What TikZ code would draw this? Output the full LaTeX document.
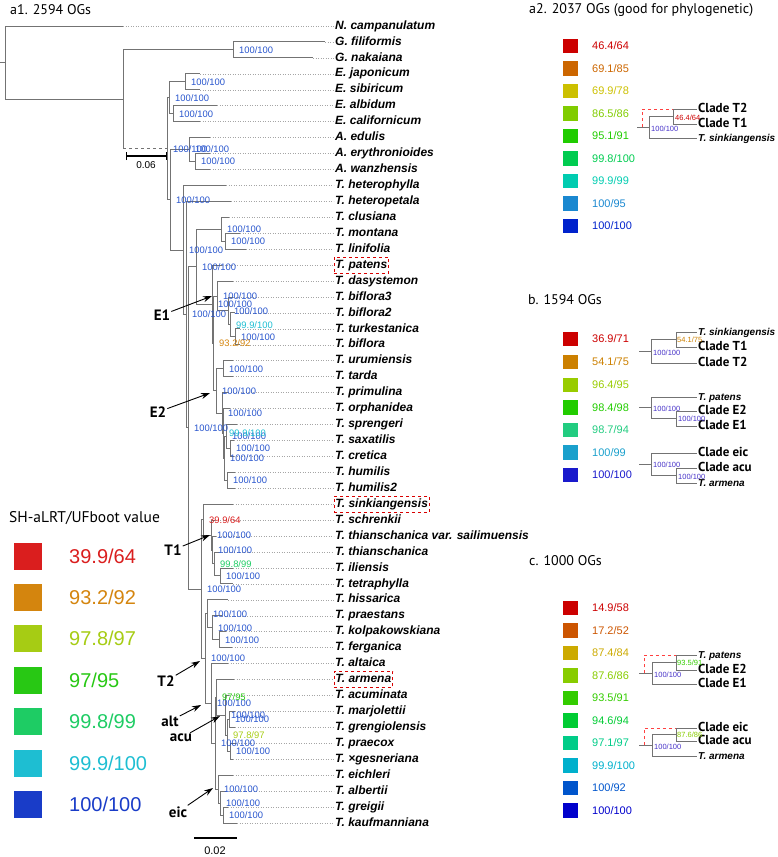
\documentclass[tikz,border=0pt]{standalone}
\usepackage{fontspec}
\setmainfont{Liberation Sans}
\newfontfamily\ptsans{PT Sans}
\usetikzlibrary{arrows.meta}
\definecolor{supblue}{RGB}{40,85,205}
\definecolor{mblue}{RGB}{70,50,200}
\definecolor{ca1}{RGB}{218,30,30}
\definecolor{ca2}{RGB}{212,133,14}
\definecolor{ca3}{RGB}{166,204,20}
\definecolor{ca4}{RGB}{40,200,20}
\definecolor{ca5}{RGB}{30,204,100}
\definecolor{ca6}{RGB}{30,190,210}
\definecolor{ca7}{RGB}{25,60,200}
\definecolor{cb1}{RGB}{204,0,0}
\definecolor{cb2}{RGB}{204,102,0}
\definecolor{cb3}{RGB}{204,192,0}
\definecolor{cb4}{RGB}{128,204,0}
\definecolor{cb5}{RGB}{32,204,0}
\definecolor{cb6}{RGB}{0,204,80}
\definecolor{cb7}{RGB}{0,204,176}
\definecolor{cb8}{RGB}{26,136,208}
\definecolor{cb9}{RGB}{0,34,204}
\definecolor{cc1}{RGB}{204,0,0}
\definecolor{cc2}{RGB}{204,128,0}
\definecolor{cc3}{RGB}{153,204,0}
\definecolor{cc4}{RGB}{34,204,0}
\definecolor{cc5}{RGB}{34,204,128}
\definecolor{cc6}{RGB}{26,160,204}
\definecolor{cc7}{RGB}{26,26,204}
\definecolor{cd1}{RGB}{204,0,0}
\definecolor{cd2}{RGB}{204,85,0}
\definecolor{cd3}{RGB}{204,170,0}
\definecolor{cd4}{RGB}{136,204,0}
\definecolor{cd5}{RGB}{51,204,0}
\definecolor{cd6}{RGB}{0,204,51}
\definecolor{cd7}{RGB}{0,204,136}
\definecolor{cd8}{RGB}{0,176,204}
\definecolor{cd9}{RGB}{0,85,204}
\definecolor{cd10}{RGB}{0,0,204}

\begin{document}
\begin{tikzpicture}[x=1pt,y=-1pt,
		branch/.style={draw=black!55,line width=1pt},
		mbranch/.style={draw=black!55,line width=0.8pt},
		leader/.style={draw=black!35,dotted,line width=0.5pt},
		altpath/.style={draw=red!75,dashed,line width=0.9pt},
		taxon/.style={anchor=west,inner sep=1.5pt,text height=8.6pt,text depth=2.4pt,font=\fontsize{12}{12}\selectfont\bfseries\itshape},
		boxed/.style={draw=red!85!black,dashed,line width=0.9pt,inner ysep=2.6pt},
		sup/.style={anchor=west,inner sep=0pt,xshift=6pt,font=\fontsize{9.4}{10}\selectfont,text=supblue},
		clab/.style={inner sep=1pt,font=\ptsans\bfseries\fontsize{15}{15}\selectfont},
		arr/.style={-{Stealth[length=9pt,width=6pt]},line width=0.9pt},
		head/.style={anchor=west,inner sep=0pt,font=\ptsans\fontsize{14}{14}\selectfont},
		sq/.style={minimum width=28pt,minimum height=27pt,inner sep=0pt},
		msq/.style={minimum width=15.5pt,minimum height=14.5pt,inner sep=0pt},
		lval/.style={anchor=west,inner sep=0pt,font=\fontsize{20}{20}\selectfont},
		mval/.style={anchor=west,inner sep=0pt,font=\fontsize{11}{11}\selectfont},
		mtaxon/.style={anchor=west,inner sep=1pt,text height=9pt,text depth=2.5pt,font=\ptsans\bfseries\fontsize{13}{13}\selectfont},
		mitaxon/.style={anchor=west,inner sep=1pt,text height=9pt,text depth=2.5pt,font=\fontsize{10}{10}\selectfont\bfseries\itshape},
		msup/.style={anchor=west,inner sep=0pt,font=\fontsize{7.5}{8}\selectfont}]
	\useasboundingbox (0,0) rectangle (778,857);

	\node[head] (h1) at (10,10) {a1. 2594 OGs};
	\node[head] (h2) at (529,10) {a2. 2037 OGs (good for phylogenetic)};
	\node[head] (h3) at (528,300) {b. 1594 OGs};
	\node[head] (h4) at (529,561) {c. 1000 OGs};

	\node[taxon] (ncam) at (333.5,26.0) {N. campanulatum}; \coordinate (ncam') at (123,26.0);
	\node[taxon] (gfil) at (333.5,41.9) {G. filiformis}; \coordinate (gfil') at (325,41.9);
	\node[taxon] (gnak) at (333.5,57.9) {G. nakaiana}; \coordinate (gnak') at (313,57.9);
	\node[taxon] (ejap) at (333.5,73.8) {E. japonicum}; \coordinate (ejap') at (200,73.8);
	\node[taxon] (esib) at (333.5,89.8) {E. sibiricum}; \coordinate (esib') at (200,89.8);
	\node[taxon] (ealb) at (333.5,105.7) {E. albidum}; \coordinate (ealb') at (217,105.7);
	\node[taxon] (ecal) at (333.5,121.6) {E. californicum}; \coordinate (ecal') at (200,121.6);
	\node[taxon] (aedu) at (333.5,137.6) {A. edulis}; \coordinate (aedu') at (210,137.6);
	\node[taxon] (aery) at (333.5,153.5) {A. erythronioides}; \coordinate (aery') at (210,153.5);
	\node[taxon] (awan) at (333.5,169.5) {A. wanzhensis}; \coordinate (awan') at (210,169.5);
	\node[taxon] (thph) at (333.5,185.4) {T. heterophylla}; \coordinate (thph') at (226,185.4);
	\node[taxon] (thpt) at (333.5,201.3) {T. heteropetala}; \coordinate (thpt') at (231,201.3);
	\node[taxon] (tclu) at (333.5,217.3) {T. clusiana}; \coordinate (tclu') at (229,217.3);
	\node[taxon] (tmon) at (333.5,233.2) {T. montana}; \coordinate (tmon') at (240,233.2);
	\node[taxon] (tlin) at (333.5,249.2) {T. linifolia}; \coordinate (tlin') at (246,249.2);
	\node[taxon,boxed] (tpat) at (333.5,265.1) {T. patens}; \coordinate (tpat') at (222,265.1);
	\node[taxon] (tdas) at (333.5,281.0) {T. dasystemon}; \coordinate (tdas') at (233,281.0);
	\node[taxon] (tbi3) at (333.5,297.0) {T. biflora3}; \coordinate (tbi3') at (233,297.0);
	\node[taxon] (tbi2) at (333.5,312.9) {T. biflora2}; \coordinate (tbi2') at (235,312.9);
	\node[taxon] (ttur) at (333.5,328.9) {T. turkestanica}; \coordinate (ttur') at (240,328.9);
	\node[taxon] (tbif) at (333.5,344.8) {T. biflora}; \coordinate (tbif') at (240,344.8);
	\node[taxon] (turu) at (333.5,360.7) {T. urumiensis}; \coordinate (turu') at (233,360.7);
	\node[taxon] (ttar) at (333.5,376.7) {T. tarda}; \coordinate (ttar') at (233,376.7);
	\node[taxon] (tpri) at (333.5,392.6) {T. primulina}; \coordinate (tpri') at (228,392.6);
	\node[taxon] (torp) at (333.5,408.6) {T. orphanidea}; \coordinate (torp') at (230,408.6);
	\node[taxon] (tspr) at (333.5,424.5) {T. sprengeri}; \coordinate (tspr') at (237,424.5);
	\node[taxon] (tsax) at (333.5,440.4) {T. saxatilis}; \coordinate (tsax') at (234,440.4);
	\node[taxon] (tcre) at (333.5,456.4) {T. cretica}; \coordinate (tcre') at (234,456.4);
	\node[taxon] (thum) at (333.5,472.3) {T. humilis}; \coordinate (thum') at (235,472.3);
	\node[taxon] (thu2) at (333.5,488.3) {T. humilis2}; \coordinate (thu2') at (235,488.3);
	\node[taxon,boxed] (tsin) at (333.5,504.2) {T. sinkiangensis}; \coordinate (tsin') at (233,504.2);
	\node[taxon] (tsch) at (333.5,520.1) {T. schrenkii}; \coordinate (tsch') at (215,520.1);
	\node[taxon] (tsai) at (333.5,536.1) {T. thianschanica var. sailimuensis}; \coordinate (tsai') at (216,536.1);
	\node[taxon] (tthi) at (333.5,552.0) {T. thianschanica}; \coordinate (tthi') at (219,552.0);
	\node[taxon] (tili) at (333.5,568.0) {T. iliensis}; \coordinate (tili') at (233,568.0);
	\node[taxon] (ttet) at (333.5,583.9) {T. tetraphylla}; \coordinate (ttet') at (233,583.9);
	\node[taxon] (thss) at (333.5,599.8) {T. hissarica}; \coordinate (thss') at (228,599.8);
	\node[taxon] (tpra) at (333.5,615.8) {T. praestans}; \coordinate (tpra') at (222,615.8);
	\node[taxon] (tkol) at (333.5,631.7) {T. kolpakowskiana}; \coordinate (tkol') at (226,631.7);
	\node[taxon] (tfer) at (333.5,647.7) {T. ferganica}; \coordinate (tfer') at (232,647.7);
	\node[taxon] (talt) at (333.5,663.6) {T. altaica}; \coordinate (talt') at (228,663.6);
	\node[taxon,boxed] (tarm) at (333.5,679.5) {T. armena}; \coordinate (tarm') at (234,679.5);
	\node[taxon] (tacu) at (333.5,695.5) {T. acuminata}; \coordinate (tacu') at (229,695.5);
	\node[taxon] (tmar) at (333.5,711.4) {T. marjolettii}; \coordinate (tmar') at (235,711.4);
	\node[taxon] (tgre) at (333.5,727.4) {T. grengiolensis}; \coordinate (tgre') at (235,727.4);
	\node[taxon] (tpcx) at (333.5,743.3) {T. praecox}; \coordinate (tpcx') at (236,743.3);
	\node[taxon] (tges) at (333.5,759.2) {T. ×gesneriana}; \coordinate (tges') at (233,759.2);
	\node[taxon] (teic) at (333.5,775.2) {T. eichleri}; \coordinate (teic') at (233,775.2);
	\node[taxon] (talb) at (333.5,791.1) {T. albertii}; \coordinate (talb') at (226,791.1);
	\node[taxon] (tgrg) at (333.5,807.1) {T. greigii}; \coordinate (tgrg') at (228,807.1);
	\node[taxon] (tkau) at (333.5,823.0) {T. kaufmanniana}; \coordinate (tkau') at (237,823.0);

	\coordinate (r0) at (0,62.65); \coordinate (r) at (5,62.65);
	\coordinate (ig) at (123,99.3); \coordinate (gag) at (233,49.9);
	\coordinate (eat) at (167,148.75); \coordinate (ery) at (169,97.7);
	\coordinate (ejs) at (185,81.8); \coordinate (eac) at (173,113.65);
	\coordinate (amtu) at (170,199.8); \coordinate (ama) at (189,149.55); \coordinate (aew) at (195,161.5);
	\coordinate (ta) at (183,250.0); \coordinate (tb) at (186,314.6); \coordinate (tc) at (188,427.95);
	\coordinate (ce) at (196,266.8); \coordinate (clu) at (221,229.25); \coordinate (ml) at (225,241.2);
	\coordinate (eri) at (212,304.3); \coordinate (e12) at (213,343.45);
	\coordinate (e1) at (217,296.0); \coordinate (e1b) at (228,310.95); \coordinate (e1c) at (230,324.9); \coordinate (e1d) at (235,336.85);
	\coordinate (e2) at (216,390.9); \coordinate (ut) at (223,368.7); \coordinate (e2b) at (222,413.05);
	\coordinate (e2c) at (223,433.5); \coordinate (e2d) at (224,458.4); \coordinate (e2e) at (226,436.45);
	\coordinate (sc) at (230,448.4); \coordinate (hh) at (227,480.3);
	\coordinate (st) at (201,589.1); \coordinate (st1) at (203,519.64);
	\coordinate (ct1) at (211,535.07); \coordinate (ct1b) at (212,550.04); \coordinate (ct1c) at (214,563.98); \coordinate (ct1d) at (220,575.95);
	\coordinate (ct2) at (205,658.6); \coordinate (hi) at (207,613.78); \coordinate (pkf) at (212,627.75); \coordinate (kf) at (219,639.7);
	\coordinate (alt) at (211,703.45); \coordinate (zz) at (215,743.3); \coordinate (aa) at (216,697.45);
	\coordinate (acu) at (225,715.4); \coordinate (gsn) at (227,735.33); \coordinate (mg) at (229,719.4); \coordinate (pg) at (230,751.25);
	\coordinate (eic) at (218,789.14); \coordinate (eic2) at (220,803.08); \coordinate (gk) at (223,815.05);

	\draw[branch] (r0) -- (r) (r) |- (ncam') (r) |- (ig);
	\draw[branch] (ig) |- (gag) (gag) |- (gfil') (gag) |- (gnak') (ig) -- (ig |- eat);
	\draw[branch,dashed] (ig |- eat) -- (eat);
	\draw[branch] (eat) |- (ery) (eat) |- (amtu);
	\draw[branch] (ery) |- (ejs) (ery) |- (eac) (ejs) |- (ejap') (ejs) |- (esib') (eac) |- (ealb') (eac) |- (ecal');
	\draw[branch] (amtu) |- (ama) (amtu) |- (ta) (ama) |- (aedu') (ama) |- (aew) (aew) |- (aery') (aew) |- (awan');
	\draw[branch] (ta) |- (thph') (ta) |- (tb) (tb) |- (thpt') (tb) |- (tc) (tc) |- (ce) (tc) |- (st);
	\draw[branch] (ce) |- (clu) (ce) |- (eri) (clu) |- (tclu') (clu) |- (ml) (ml) |- (tmon') (ml) |- (tlin');
	\draw[branch] (eri) |- (tpat') (eri) |- (e12) (e12) |- (e1) (e12) |- (e2);
	\draw[branch] (e1) |- (tdas') (e1) |- (e1b) (e1b) |- (tbi3') (e1b) |- (e1c) (e1c) |- (tbi2') (e1c) |- (e1d) (e1d) |- (ttur') (e1d) |- (tbif');
	\draw[branch] (e2) |- (ut) (e2) |- (e2b) (ut) |- (turu') (ut) |- (ttar') (e2b) |- (tpri') (e2b) |- (e2c) (e2c) |- (torp') (e2c) |- (e2d);
	\draw[branch] (e2d) |- (e2e) (e2d) |- (hh) (e2e) |- (tspr') (e2e) |- (sc) (sc) |- (tsax') (sc) |- (tcre') (hh) |- (thum') (hh) |- (thu2');
	\draw[branch] (st) |- (st1) (st) |- (ct2) (st1) |- (tsin') (st1) |- (ct1) (ct1) |- (tsch') (ct1) |- (ct1b);
	\draw[branch] (ct1b) |- (tsai') (ct1b) |- (ct1c) (ct1c) |- (tthi') (ct1c) |- (ct1d) (ct1d) |- (tili') (ct1d) |- (ttet');
	\draw[branch] (ct2) |- (hi) (ct2) |- (alt) (hi) |- (thss') (hi) |- (pkf) (pkf) |- (tpra') (pkf) |- (kf) (kf) |- (tkol') (kf) |- (tfer');
	\draw[branch] (alt) |- (talt') (alt) |- (zz) (zz) |- (aa) (zz) |- (eic) (aa) |- (tarm') (aa) |- (acu) (acu) |- (tacu') (acu) |- (gsn);
	\draw[branch] (gsn) |- (mg) (gsn) |- (pg) (mg) |- (tmar') (mg) |- (tgre') (pg) |- (tpcx') (pg) |- (tges');
	\draw[branch] (eic) |- (teic') (eic) |- (eic2) (eic2) |- (talb') (eic2) |- (gk) (gk) |- (tgrg') (gk) |- (tkau');

	\draw[leader] (ncam') -- (ncam) (gfil') -- (gfil) (gnak') -- (gnak) (ejap') -- (ejap) (esib') -- (esib) (ealb') -- (ealb) (ecal') -- (ecal);
	\draw[leader] (aedu') -- (aedu) (aery') -- (aery) (awan') -- (awan) (thph') -- (thph) (thpt') -- (thpt) (tclu') -- (tclu) (tmon') -- (tmon);
	\draw[leader] (tlin') -- (tlin) (tpat') -- (tpat) (tdas') -- (tdas) (tbi3') -- (tbi3) (tbi2') -- (tbi2) (ttur') -- (ttur) (tbif') -- (tbif);
	\draw[leader] (turu') -- (turu) (ttar') -- (ttar) (tpri') -- (tpri) (torp') -- (torp) (tspr') -- (tspr) (tsax') -- (tsax) (tcre') -- (tcre);
	\draw[leader] (thum') -- (thum) (thu2') -- (thu2) (tsin') -- (tsin) (tsch') -- (tsch) (tsai') -- (tsai) (tthi') -- (tthi) (tili') -- (tili);
	\draw[leader] (ttet') -- (ttet) (thss') -- (thss) (tpra') -- (tpra) (tkol') -- (tkol) (tfer') -- (tfer) (talt') -- (talt) (tarm') -- (tarm);
	\draw[leader] (tacu') -- (tacu) (tmar') -- (tmar) (tgre') -- (tgre) (tpcx') -- (tpcx) (tges') -- (tges) (teic') -- (teic);
	\draw[leader] (talb') -- (talb) (tgrg') -- (tgrg) (tkau') -- (tkau);

	\coordinate (s06a) at (126,156); \coordinate (s06b) at (167,156);
	\draw[line width=1.3pt,{Bar[width=8pt]}-{Bar[width=8pt]}] (s06a) -- (s06b);
	\node[font=\fontsize{10}{10}\selectfont] (s06) at (146,165) {0.06};
	\coordinate (s02a) at (194,838); \coordinate (s02b) at (237,838);
	\draw[line width=1.6pt] (s02a) -- (s02b);
	\node[font=\fontsize{11}{11}\selectfont] (s02) at (215,851) {0.02};

	\node[sup] (sgag) at (gag) {100/100};
	\node[sup] (sejs) at (ejs) {100/100};
	\node[sup] (seac) at (eac) {100/100};
	\node[sup] (sery) at (ery) {100/100};
	\node[sup] (seat) at (eat) {100/100};
	\node[sup] (sama) at (ama) {100/100};
	\node[sup] (saew) at (aew) {100/100};
	\node[sup] (samtu) at (amtu) {100/100};
	\node[sup] (sta) at (ta) {100/100};
	\node[sup] (stb) at (tb) {100/100};
	\node[sup] (stc) at (tc) {100/100};
	\node[sup] (sce) at (ce) {100/100};
	\node[sup] (sclu) at (clu) {100/100};
	\node[sup] (sml) at (ml) {100/100};
	\node[sup] (seri) at (eri) {100/100};
	\node[sup] (se1) at (e1) {100/100};
	\node[sup] (se1b) at (e1b) {100/100};
	\node[sup,text=ca6] (se1c) at (e1c) {99.9/100};
	\node[sup] (se1d) at (e1d) {100/100};
	\node[sup,text=ca2] (se12) at (e12) {93.2/92};
	\node[sup] (sut) at (ut) {100/100};
	\node[sup] (se2) at (e2) {100/100};
	\node[sup] (se2b) at (e2b) {100/100};
	\node[sup] (se2d) at (e2d) {100/100};
	\node[sup] (se2e) at (e2e) {100/100};
	\node[sup,text=ca6] (se2c) at (e2c) {99.9/100};
	\node[sup] (ssc) at (sc) {100/100};
	\node[sup] (shh) at (hh) {100/100};
	\node[sup] (sst) at (st) {100/100};
	\node[sup,text=ca1] (sst1) at (st1) {39.9/64};
	\node[sup] (sct1) at (ct1) {100/100};
	\node[sup] (sct1b) at (ct1b) {100/100};
	\node[sup,text=ca5] (sct1c) at (ct1c) {99.8/99};
	\node[sup] (sct1d) at (ct1d) {100/100};
	\node[sup] (sct2) at (ct2) {100/100};
	\node[sup] (shi) at (hi) {100/100};
	\node[sup] (spkf) at (pkf) {100/100};
	\node[sup] (skf) at (kf) {100/100};
	\node[sup] (salt) at (alt) {100/100};
	\node[sup] (szz) at (zz) {100/100};
	\node[sup,text=ca4] (saa) at (aa) {97/95};
	\node[sup] (sacu) at (acu) {100/100};
	\node[sup,text=ca3] (sgsn) at (gsn) {97.8/97};
	\node[sup] (smg) at (mg) {100/100};
	\node[sup] (spg) at (pg) {100/100};
	\node[sup] (seic) at (eic) {100/100};
	\node[sup] (seic2) at (eic2) {100/100};
	\node[sup] (sgk) at (gk) {100/100};

	\node[clab] (ne1) at (162,315) {E1}; \coordinate (ne1') at (212,296);
	\node[clab] (ne2) at (158,412) {E2}; \coordinate (ne2') at (210,393);
	\node[clab] (nt1) at (173,550) {T1}; \coordinate (nt1') at (210,535);
	\node[clab] (nt2) at (166,681) {T2}; \coordinate (nt2') at (200,661);
	\node[clab] (nalt) at (170,721) {alt}; \coordinate (nalt') at (201,705);
	\node[clab] (nacu) at (181,738) {acu}; \coordinate (nacu') at (220,716);
	\node[clab] (neic) at (178,812) {eic}; \coordinate (neic') at (213,788);
	\draw[arr] (ne1) -- (ne1');
	\draw[arr] (ne2) -- (ne2');
	\draw[arr] (nt1) -- (nt1');
	\draw[arr] (nt2) -- (nt2');
	\draw[arr] (nalt) -- (nalt');
	\draw[arr] (nacu) -- (nacu');
	\draw[arr] (neic) -- (neic');

	\node[anchor=west,inner sep=0pt,font=\ptsans\fontsize{15.5}{15.5}\selectfont] (lh) at (9,518) {SH-aLRT/UFboot value};
	\node[sq,fill=ca1] (k1) at (28,556) {}; \node[lval,text=ca1] (v1) at (69,556) {39.9/64};
	\node[sq,fill=ca2] (k2) at (28,597.5) {}; \node[lval,text=ca2] (v2) at (69,597.5) {93.2/92};
	\node[sq,fill=ca3] (k3) at (28,638.7) {}; \node[lval,text=ca3] (v3) at (69,638.7) {97.8/97};
	\node[sq,fill=ca4] (k4) at (28,680) {}; \node[lval,text=ca4] (v4) at (69,680) {97/95};
	\node[sq,fill=ca5] (k5) at (28,721) {}; \node[lval,text=ca5] (v5) at (69,721) {99.8/99};
	\node[sq,fill=ca6] (k6) at (28,763) {}; \node[lval,text=ca6] (v6) at (69,763) {99.9/100};
	\node[sq,fill=ca7] (k7) at (28,804) {}; \node[lval,text=ca7] (v7) at (69,804) {100/100};

	\node[msq,fill=cb1] (p1) at (570.5,46) {}; \node[mval,text=cb1] (pv1) at (592,46) {46.4/64};
	\node[msq,fill=cb2] (p2) at (570.5,68.5) {}; \node[mval,text=cb2] (pv2) at (592,68.5) {69.1/85};
	\node[msq,fill=cb3] (p3) at (570.5,91) {}; \node[mval,text=cb3] (pv3) at (592,91) {69.9/78};
	\node[msq,fill=cb4] (p4) at (570.5,113.5) {}; \node[mval,text=cb4] (pv4) at (592,113.5) {86.5/86};
	\node[msq,fill=cb5] (p5) at (570.5,136) {}; \node[mval,text=cb5] (pv5) at (592,136) {95.1/91};
	\node[msq,fill=cb6] (p6) at (570.5,158.5) {}; \node[mval,text=cb6] (pv6) at (592,158.5) {99.8/100};
	\node[msq,fill=cb7] (p7) at (570.5,181) {}; \node[mval,text=cb7] (pv7) at (592,181) {99.9/99};
	\node[msq,fill=cb8] (p8) at (570.5,203.5) {}; \node[mval,text=cb8] (pv8) at (592,203.5) {100/95};
	\node[msq,fill=cb9] (p9) at (570.5,226) {}; \node[mval,text=cb9] (pv9) at (592,226) {100/100};

	\node[msq,fill=cc1] (q1) at (570.5,339) {}; \node[mval,text=cc1] (qv1) at (592,339) {36.9/71};
	\node[msq,fill=cc2] (q2) at (570.5,362) {}; \node[mval,text=cc2] (qv2) at (592,362) {54.1/75};
	\node[msq,fill=cc3] (q3) at (570.5,385) {}; \node[mval,text=cc3] (qv3) at (592,385) {96.4/95};
	\node[msq,fill=cc4] (q4) at (570.5,407.5) {}; \node[mval,text=cc4] (qv4) at (592,407.5) {98.4/98};
	\node[msq,fill=cc5] (q5) at (570.5,430) {}; \node[mval,text=cc5] (qv5) at (592,430) {98.7/94};
	\node[msq,fill=cc6] (q6) at (570.5,452.5) {}; \node[mval,text=cc6] (qv6) at (592,452.5) {100/99};
	\node[msq,fill=cc7] (q7) at (570.5,475) {}; \node[mval,text=cc7] (qv7) at (592,475) {100/100};

	\node[msq,fill=cd1] (u1) at (570.5,608) {}; \node[mval,text=cd1] (uv1) at (592,608) {14.9/58};
	\node[msq,fill=cd2] (u2) at (570.5,630.5) {}; \node[mval,text=cd2] (uv2) at (592,630.5) {17.2/52};
	\node[msq,fill=cd3] (u3) at (570.5,653) {}; \node[mval,text=cd3] (uv3) at (592,653) {87.4/84};
	\node[msq,fill=cd4] (u4) at (570.5,675.5) {}; \node[mval,text=cd4] (uv4) at (592,675.5) {87.6/86};
	\node[msq,fill=cd5] (u5) at (570.5,698) {}; \node[mval,text=cd5] (uv5) at (592,698) {93.5/91};
	\node[msq,fill=cd6] (u6) at (570.5,720.5) {}; \node[mval,text=cd6] (uv6) at (592,720.5) {94.6/94};
	\node[msq,fill=cd7] (u7) at (570.5,743) {}; \node[mval,text=cd7] (uv7) at (592,743) {97.1/97};
	\node[msq,fill=cd8] (u8) at (570.5,765.5) {}; \node[mval,text=cd8] (uv8) at (592,765.5) {99.9/100};
	\node[msq,fill=cd9] (u9) at (570.5,788) {}; \node[mval,text=cd9] (uv9) at (592,788) {100/92};
	\node[msq,fill=cd10] (u10) at (570.5,810.5) {}; \node[mval,text=cd10] (uv10) at (592,810.5) {100/100};

	\node[mtaxon] (a2t2) at (697,109) {Clade T2};
	\node[mtaxon] (a2t1) at (697,124) {Clade T1};
	\node[mitaxon] (a2sk) at (697,138) {T. sinkiangensis};
	\coordinate (a2r) at (637,127); \coordinate (a2o) at (649,127); \coordinate (a2i) at (673,116.5);
	\coordinate (a2d) at (642,127); \coordinate (a2k) at (673,109);
	\draw[mbranch] (a2r) -- (a2o) (a2o) |- (a2i) (a2o) |- (a2sk) (a2i) |- (a2t2) (a2i) |- (a2t1);
	\draw[altpath] (a2d) |- (a2k);
	\node[msup,text=cb1] (a2s1) at (675,117.5) {46.4/64};
	\node[msup,text=mblue] (a2s2) at (651,128.5) {100/100};

	\node[mitaxon] (b1sk) at (697,332) {T. sinkiangensis};
	\node[mtaxon] (b1t1) at (697,347) {Clade T1};
	\node[mtaxon] (b1t2) at (697,363) {Clade T2};
	\coordinate (b1r) at (639,351.25); \coordinate (b1o) at (651,351.25); \coordinate (b1i) at (676,339.5);
	\draw[mbranch] (b1r) -- (b1o) (b1o) |- (b1i) (b1o) |- (b1t2) (b1i) |- (b1sk) (b1i) |- (b1t1);
	\node[msup,text=cc2] (b1s1) at (677,340) {54.1/75};
	\node[msup,text=mblue] (b1s2) at (653,353) {100/100};

	\node[mitaxon] (b2pa) at (697,397) {T. patens};
	\node[mtaxon] (b2e2) at (697,411) {Clade E2};
	\node[mtaxon] (b2e1) at (697,426) {Clade E1};
	\coordinate (b2r) at (639,407.75); \coordinate (b2o) at (651,407.75); \coordinate (b2i) at (676,418.5);
	\draw[mbranch] (b2r) -- (b2o) (b2o) |- (b2pa) (b2o) |- (b2i) (b2i) |- (b2e2) (b2i) |- (b2e1);
	\node[msup,text=mblue] (b2s1) at (653,408.5) {100/100};
	\node[msup,text=mblue] (b2s2) at (678,419) {100/100};

	\node[mtaxon] (b3ei) at (697,453) {Clade eic};
	\node[mtaxon] (b3ac) at (697,468) {Clade acu};
	\node[mitaxon] (b3ar) at (697,483) {T. armena};
	\coordinate (b3r) at (639,464.25); \coordinate (b3o) at (651,464.25); \coordinate (b3i) at (676,475.5);
	\draw[mbranch] (b3r) -- (b3o) (b3o) |- (b3ei) (b3o) |- (b3i) (b3i) |- (b3ac) (b3i) |- (b3ar);
	\node[msup,text=mblue] (b3s1) at (653,465) {100/100};
	\node[msup,text=mblue] (b3s2) at (678,477) {100/100};

	\node[mitaxon] (c1pa) at (697,655) {T. patens};
	\node[mtaxon] (c1e2) at (697,670) {Clade E2};
	\node[mtaxon] (c1e1) at (697,684) {Clade E1};
	\coordinate (c1r) at (639,673.25); \coordinate (c1o) at (652,673.25); \coordinate (c1i) at (676,662.5);
	\coordinate (c1d) at (644,673.25); \coordinate (c1k) at (676,655);
	\draw[mbranch] (c1r) -- (c1o) (c1o) |- (c1i) (c1o) |- (c1e1) (c1i) |- (c1pa) (c1i) |- (c1e2);
	\draw[altpath] (c1d) |- (c1k);
	\node[msup,text=cd5] (c1s1) at (677,663) {93.5/91};
	\node[msup,text=mblue] (c1s2) at (654,674.5) {100/100};

	\node[mtaxon] (c2ei) at (697,728) {Clade eic};
	\node[mtaxon] (c2ac) at (697,741) {Clade acu};
	\node[mitaxon] (c2ar) at (697,756) {T. armena};
	\coordinate (c2r) at (639,745.25); \coordinate (c2o) at (652,745.25); \coordinate (c2i) at (676,734.5);
	\coordinate (c2d) at (644,745.25); \coordinate (c2k) at (676,728);
	\draw[mbranch] (c2r) -- (c2o) (c2o) |- (c2i) (c2o) |- (c2ar) (c2i) |- (c2ei) (c2i) |- (c2ac);
	\draw[altpath] (c2d) |- (c2k);
	\node[msup,text=cd4] (c2s1) at (677,735) {87.6/86};
	\node[msup,text=mblue] (c2s2) at (654,747) {100/100};
\end{tikzpicture}
\end{document}
